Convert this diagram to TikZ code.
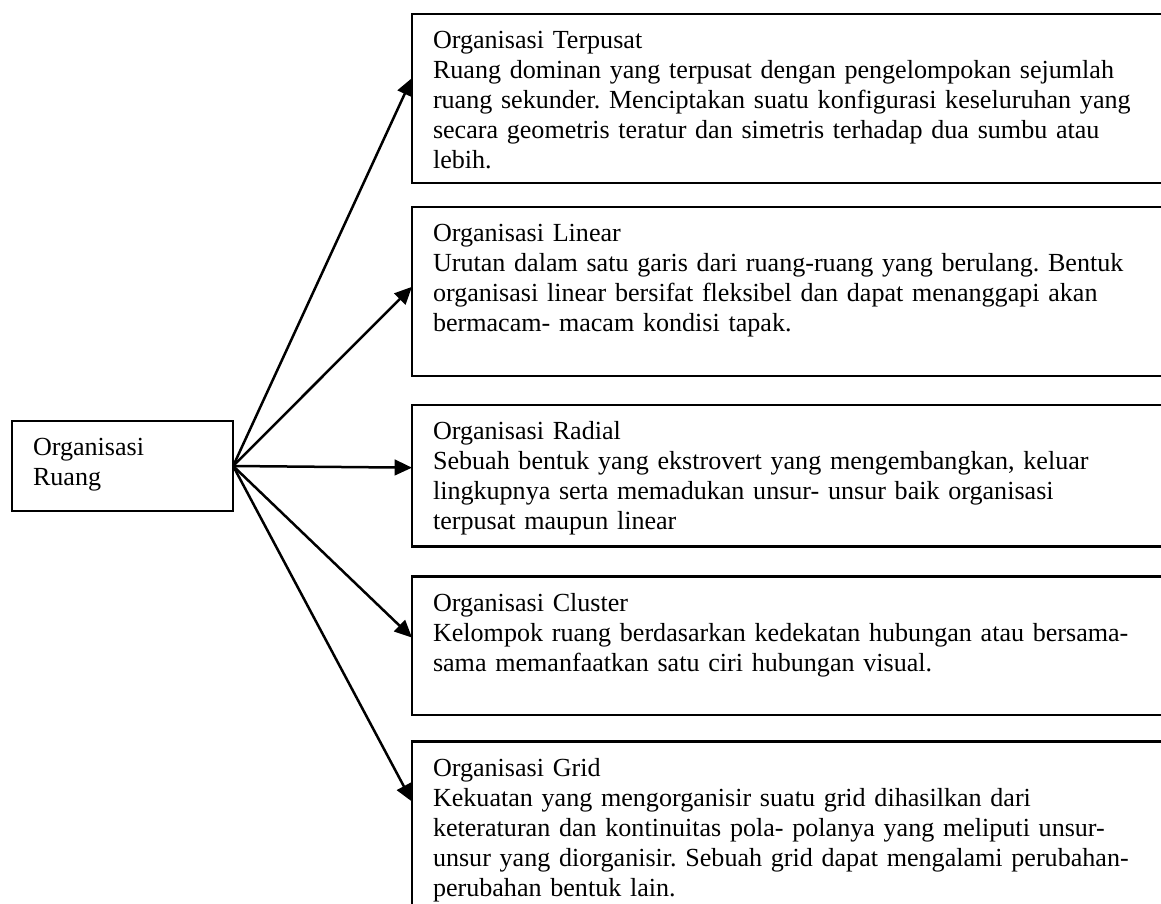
\documentclass[tikz,border=0pt]{standalone}
\usepackage{fontspec}
\setmainfont{Liberation Serif}
\usetikzlibrary{%
	positioning,
	calc,
	arrows.meta
}
\frenchspacing

\begin{document}
\begin{tikzpicture}[x=0.46pt,y=-0.46pt,
		SOrg/.style={draw,line width=1.05pt,shape=rectangle,align=left,font=\fontsize{12pt}{13.8pt}\selectfont,text width=333.7pt,inner xsep=9.66pt,inner ysep=8pt,text height=8pt,outer sep=0pt},
		SRuang/.style={SOrg,text width=82.4pt,text depth=17.4pt},
		link/.style={-{Triangle[length=8pt,width=7.2pt]},line width=1.15pt}
	]
	\useasboundingbox (0,0) rectangle (1161,904);
	
		%Ruang
		\node (ruang) [SRuang, anchor=north west] at (12,421) {Organisasi\\Ruang};
		
		%jenis organisasi
		\node (terpusat) [SOrg, text depth=53.7pt, anchor=north west] at (412,14) {Organisasi Terpusat\\Ruang dominan yang terpusat dengan pengelompokan sejumlah\\ruang sekunder. Menciptakan suatu konfigurasi keseluruhan yang\\secara geometris teratur dan simetris terhadap dua sumbu atau\\lebih.};
		\node (linear) [SOrg, text depth=53.7pt, below=11pt of terpusat.south west, anchor=north west] {Organisasi Linear\\Urutan dalam satu garis dari ruang-ruang yang berulang. Bentuk\\organisasi linear bersifat fleksibel dan dapat menanggapi akan\\bermacam- macam kondisi tapak.};
		\node (radial) [SOrg, text depth=41.3pt, below=13.3pt of linear.south west, anchor=north west] {Organisasi Radial\\Sebuah bentuk yang ekstrovert yang mengembangkan, keluar\\lingkupnya serta memadukan unsur- unsur baik organisasi\\terpusat maupun linear};
		\node (cluster) [SOrg, text depth=39.5pt, below=13.8pt of radial.south west, anchor=north west] {Organisasi Cluster\\Kelompok ruang berdasarkan kedekatan hubungan atau bersama-\\sama memanfaatkan satu ciri hubungan visual.};
		\node (grid) [SOrg, text depth=57.9pt, below=12.4pt of cluster.south west, anchor=north west] {Organisasi Grid\\Kekuatan yang mengorganisir suatu grid dihasilkan dari\\keteraturan dan kontinuitas pola- polanya yang meliputi unsur-\\unsur yang diorganisir. Sebuah grid dapat mengalami perubahan-\\perubahan bentuk lain.};
		
		\draw [link] (ruang.east) -- ($(terpusat.north west)+(0,64)$);
		\draw [link] (ruang.east) -- ($(linear.north west)+(0,80)$);
		\draw [link] (ruang.east) -- ($(radial.north west)+(0,63)$);
		\draw [link] (ruang.east) -- ($(cluster.north west)+(0,61)$);
		\draw [link] (ruang.east) -- ($(grid.north west)+(0,60)$);
		
\end{tikzpicture}
\end{document}
